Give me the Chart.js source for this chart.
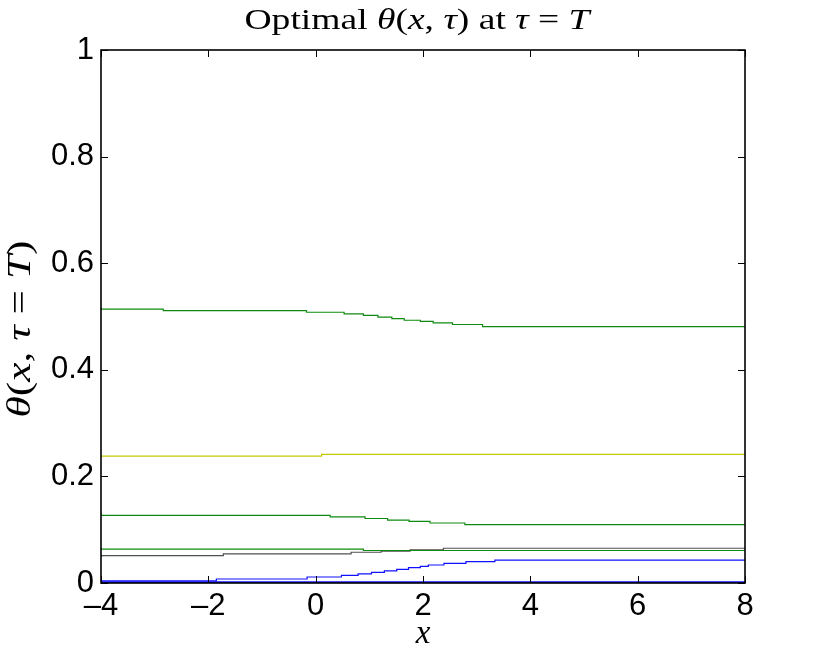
<!DOCTYPE html>
<html>
<head>
<meta charset="utf-8">
<script src="https://cdn.jsdelivr.net/npm/chart.js@4/dist/chart.umd.min.js"></script>
<style>
html,body{margin:0;padding:0;background:#fff;}
#c{display:block;}
</style>
</head>
<body>
<canvas id="c" width="817" height="657"></canvas>
<script>
// ---- data ----
const xTicks = [-4, -2, 0, 2, 4, 6, 8];
const yTicks = [0, 0.2, 0.4, 0.6, 0.8, 1];

const greenTopX = [-4, -2.84, -0.17, 0.53, 0.89, 1.16, 1.42, 1.65, 1.95, 2.19, 2.55, 3.11, 4.25, 8];
const greenTopY = [0.517, 0.514, 0.511, 0.508, 0.505, 0.502, 0.499, 0.496, 0.493, 0.491, 0.488, 0.485, 0.481, 0.481];

const yellowX = [-4, 0.11, 2.86, 8];
const yellowY = [0.236, 0.238, 0.2415, 0.2415];

const greenMidX = [-4, 0.27, 0.92, 1.34, 1.74, 2.13, 2.78, 4.33, 8];
const greenMidY = [0.131, 0.127, 0.124, 0.121, 0.118, 0.1157, 0.1126, 0.1094, 0.1094];

const greenLowX = [-4, 0.89, 2.88, 8];
const greenLowY = [0.066, 0.0637, 0.061, 0.061];

const grayX = [-4, -1.72, 0.66, 1.22, 1.76, 2.38, 3.63, 8];
const grayY = [0.049, 0.0515, 0.0547, 0.0577, 0.0596, 0.0622, 0.0652, 0.0652];

const blueRiseX = [-4, -1.85, -0.16, 0.48, 0.79, 1.04, 1.28, 1.51, 1.73, 1.95, 2.1, 2.39, 2.8, 3.34, 4.67, 8];
const blueRiseY = [0, 0.0038, 0.0075, 0.0113, 0.0144, 0.017, 0.0201, 0.0227, 0.0257, 0.029, 0.0313, 0.0338, 0.0368, 0.04, 0.043, 0.043];

const blueFlatX = [-4, 4.16, 8];
const blueFlatY = [0, 0.0015, 0.0015];

const blueZeroX = [-4, 8];
const blueZeroY = [0, 0];

function pts(xs, ys){ return xs.map((x,i)=>({x:x, y:ys[i]})); }
function ds(xs, ys, color, w){
  return {data: pts(xs, ys), borderColor: color, borderWidth: w || 1.2, stepped: 'after',
          pointRadius: 0, fill: false, tension: 0};
}

const PLOT = {left:101, right:745, top:50, bottom:583};

const decor = {
  id: 'decor',
  afterDatasetsDraw(chart){
    const ctx = chart.ctx, a = chart.chartArea;
    const xs = chart.scales.x, ys = chart.scales.y;
    ctx.save();
    ctx.strokeStyle = '#000';
    ctx.lineWidth = 1;
    const L = 7;
    ctx.beginPath();
    xTicks.forEach(v=>{
      const p = Math.round(xs.getPixelForValue(v)) + 0.5;
      ctx.moveTo(p, a.bottom); ctx.lineTo(p, a.bottom - L);
      ctx.moveTo(p, a.top); ctx.lineTo(p, a.top + L);
    });
    yTicks.forEach(v=>{
      const p = Math.round(ys.getPixelForValue(v)) + 0.5;
      ctx.moveTo(a.left, p); ctx.lineTo(a.left + L, p);
      ctx.moveTo(a.right, p); ctx.lineTo(a.right - L, p);
    });
    ctx.stroke();
    ctx.lineWidth = 1.6;
    ctx.strokeRect(a.left, a.top, a.right - a.left, a.bottom - a.top);

    const serif = '"Liberation Serif","DejaVu Serif",serif';
    function drawMath(parts, size, cx, cy, rot, targetW){
      let total = 0;
      const widths = parts.map(p=>{
        ctx.font = (p[1]?'italic ':'') + size + 'px ' + serif;
        const w = ctx.measureText(p[0]).width; total += w; return w;
      });
      const sx = targetW ? targetW / total : 1;
      ctx.save();
      ctx.translate(cx, cy);
      if (rot) ctx.rotate(rot);
      ctx.scale(sx, 1);
      ctx.fillStyle = '#000';
      ctx.textBaseline = 'alphabetic';
      ctx.textAlign = 'left';
      let x = -total/2;
      parts.forEach((p,i)=>{
        ctx.font = (p[1]?'italic ':'') + size + 'px ' + serif;
        ctx.fillText(p[0], x, 0);
        x += widths[i];
      });
      ctx.restore();
    }
    const parts = [
      ['Optimal ', false], ['θ', true], ['(', false], ['x', true], [', ', false],
      ['τ', true], [')', false], [' at ', false], ['τ', true], [' = ', false], ['T', true]
    ];
    drawMath(parts, 30, 417, 29, 0, 345);
    drawMath([['x', true]], 33, (a.left + a.right)/2, 643, 0, 0);
    const yparts = [['θ', true], ['(', false], ['x', true], [', ', false], ['τ', true], [' = ', false], ['T', true], [')', false]];
    drawMath(yparts, 33, 30, 329, -Math.PI/2, 177);
    ctx.restore();
  }
};

const tickFont = {family: '"Liberation Sans", Arial, sans-serif', size: 31};

new Chart(document.getElementById('c'), {
  type: 'line',
  data: {
    datasets: [
      ds(greenTopX, greenTopY, '#108a10'),
      ds(yellowX, yellowY, '#c8c800'),
      ds(greenMidX, greenMidY, '#108a10'),
      ds(greenLowX, greenLowY, '#108a10'),
      ds(grayX, grayY, '#505050'),
      ds(blueRiseX, blueRiseY, '#1010ff'),
      ds(blueFlatX, blueFlatY, '#1010ff', 2),
      ds(blueZeroX, blueZeroY, '#1010ff', 2)
    ]
  },
  options: {
    responsive: false,
    devicePixelRatio: 1,
    animation: false,
    layout: {padding: {top: PLOT.top, right: 817 - PLOT.right, left: 0, bottom: 0}},
    plugins: {legend: {display: false}, tooltip: {enabled: false}, title: {display: false}},
    scales: {
      x: {
        type: 'linear', min: -4, max: 8,
        afterBuildTicks(s){ s.ticks = xTicks.map(v=>({value:v})); },
        afterFit(s){ s.height = 657 - PLOT.bottom; },
        grid: {display: false, drawTicks: false},
        border: {display: false},
        ticks: {font: tickFont, color: '#000', padding: 5, maxRotation: 0,
                callback: v => v < 0 ? '–' + Math.abs(v) : String(v)}
      },
      y: {
        type: 'linear', min: 0, max: 1,
        afterBuildTicks(s){ s.ticks = yTicks.map(v=>({value:v})); },
        afterFit(s){ s.width = PLOT.left; },
        grid: {display: false, drawTicks: false},
        border: {display: false},
        ticks: {font: tickFont, color: '#000', padding: 7,
                callback: v => String(Math.round(v*10)/10)}
      }
    }
  },
  plugins: [decor]
});
</script>
</body>
</html>
